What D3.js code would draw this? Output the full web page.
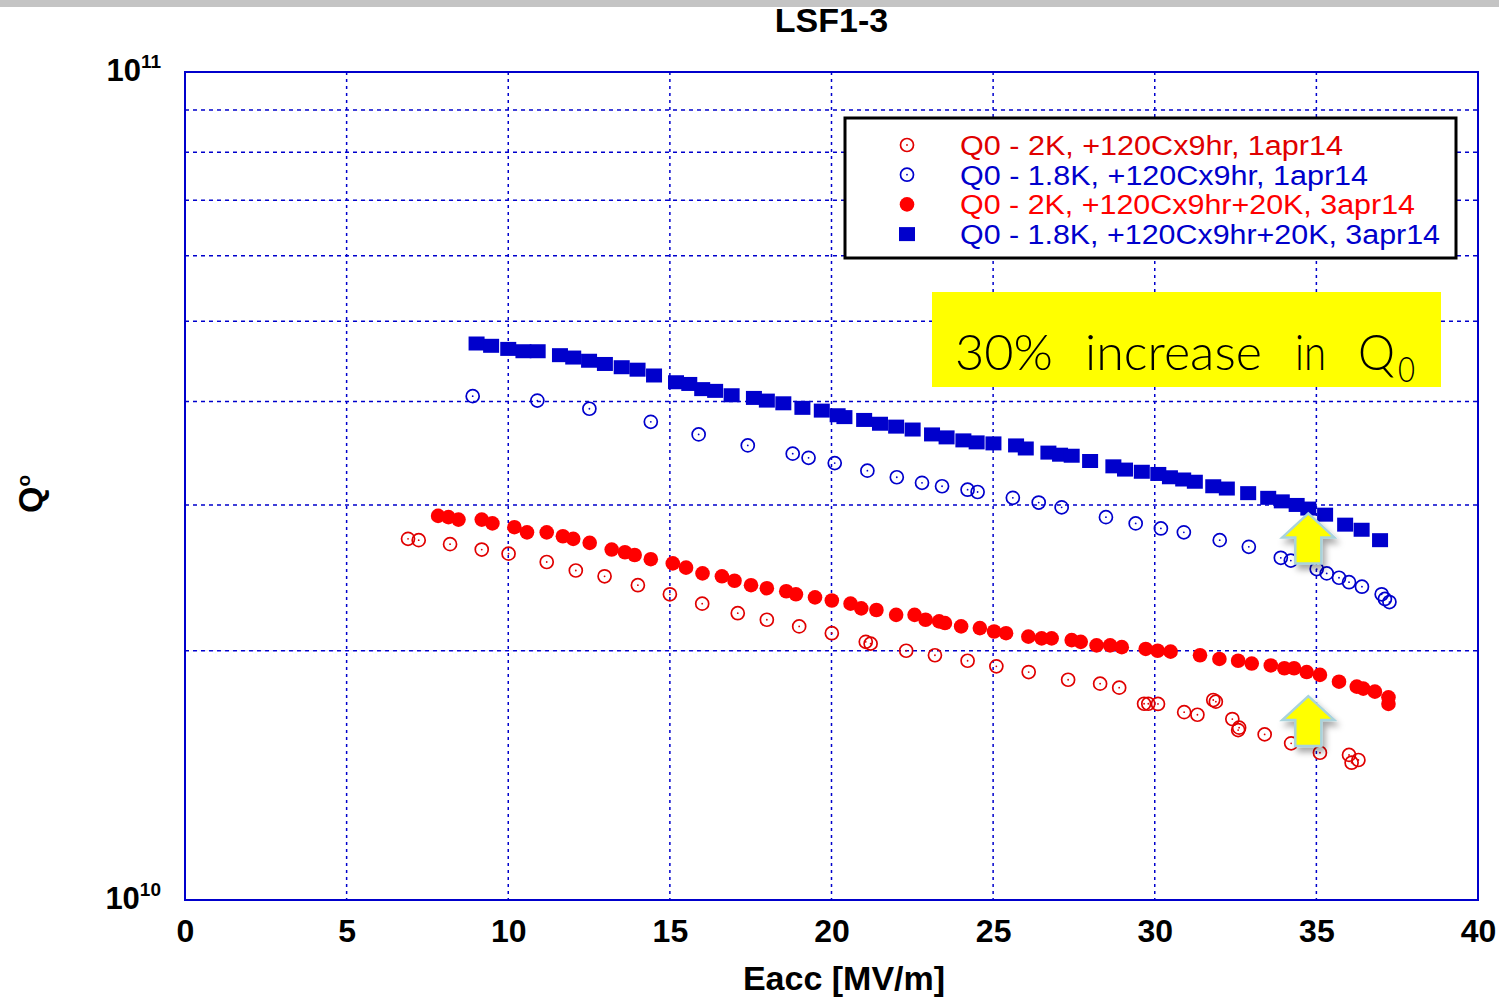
<!DOCTYPE html>
<html>
<head>
<meta charset="utf-8">
<script src="https://cdn.jsdelivr.net/npm/d3@7/dist/d3.min.js"></script>
<style>
  html, body { margin: 0; padding: 0; background: #fff; }
  svg { display: block; font-family: "Liberation Sans", Arial, Helvetica, sans-serif; }
</style>
</head>
<body>
<svg id="chart" width="1499" height="999"></svg>
<script>
// Data: Eacc [MV/m] and Q0 [x1e10]

// Q0 - 2K, +120Cx9hr, 1apr14 (open red)
const red1E = [6.90, 7.23, 8.20, 9.18, 10.01, 11.19, 12.09, 12.98, 14.01, 15.00, 16.00, 17.10, 18.00, 19.00, 20.01, 21.06, 21.21, 22.31, 23.20, 24.21, 25.10, 26.10, 27.32, 28.31, 28.90, 29.67, 29.80, 30.10, 30.91, 31.32, 31.81, 31.89, 32.40, 32.61, 32.58, 33.40, 34.22, 35.11, 36.01, 36.09, 36.30];
const red1Q = [2.73, 2.72, 2.69, 2.65, 2.62, 2.56, 2.50, 2.46, 2.40, 2.34, 2.28, 2.22, 2.18, 2.14, 2.10, 2.05, 2.04, 2.00, 1.975, 1.945, 1.915, 1.885, 1.845, 1.825, 1.805, 1.726, 1.726, 1.725, 1.686, 1.674, 1.744, 1.736, 1.654, 1.615, 1.604, 1.585, 1.546, 1.506, 1.497, 1.465, 1.476];

// Q0 - 1.8K, +120Cx9hr, 1apr14 (open blue)
const blue1E = [8.90, 10.90, 12.51, 14.41, 15.89, 17.41, 18.80, 19.29, 20.10, 21.11, 22.02, 22.80, 23.42, 24.21, 24.52, 25.61, 26.41, 27.12, 28.49, 29.41, 30.19, 30.90, 32.01, 32.91, 33.90, 34.21, 35.01, 35.32, 35.70, 36.01, 36.41, 37.02, 37.12, 37.26];
const blue1Q = [4.06, 4.01, 3.92, 3.78, 3.65, 3.54, 3.46, 3.42, 3.37, 3.30, 3.24, 3.19, 3.16, 3.13, 3.11, 3.06, 3.02, 2.98, 2.90, 2.85, 2.81, 2.78, 2.72, 2.67, 2.59, 2.57, 2.51, 2.48, 2.45, 2.42, 2.39, 2.34, 2.31, 2.29];

// Q0 - 2K, +120Cx9hr+20K, 3apr14 (filled red)
const red2E = [7.83, 8.15, 8.46, 9.18, 9.51, 10.19, 10.58, 11.19, 11.69, 12.01, 12.52, 13.20, 13.61, 13.91, 14.41, 15.09, 15.50, 16.01, 16.61, 17.00, 17.51, 18.00, 18.60, 18.90, 19.49, 20.01, 20.59, 20.92, 21.39, 22.00, 22.57, 22.91, 23.33, 23.51, 24.01, 24.59, 25.03, 25.40, 26.09, 26.50, 26.81, 27.43, 27.71, 28.20, 28.62, 28.98, 29.72, 30.09, 30.49, 31.40, 32.00, 32.58, 33.00, 33.59, 34.01, 34.31, 34.70, 35.11, 35.70, 36.25, 36.45, 36.81, 37.23, 37.23];
const red2Q = [2.91, 2.90, 2.88, 2.88, 2.85, 2.82, 2.78, 2.78, 2.75, 2.73, 2.70, 2.65, 2.63, 2.61, 2.58, 2.55, 2.52, 2.48, 2.46, 2.43, 2.40, 2.38, 2.36, 2.34, 2.32, 2.30, 2.28, 2.25, 2.24, 2.21, 2.21, 2.18, 2.17, 2.16, 2.14, 2.13, 2.11, 2.10, 2.08, 2.07, 2.07, 2.06, 2.05, 2.03, 2.03, 2.02, 2.01, 2.00, 1.995, 1.975, 1.955, 1.945, 1.93, 1.92, 1.905, 1.905, 1.885, 1.87, 1.835, 1.81, 1.80, 1.785, 1.757, 1.725];

// Q0 - 1.8K, +120Cx9hr+20K, 3apr14 (filled blue squares)
const blue2E = [9.02, 9.47, 10.00, 10.47, 10.91, 11.60, 12.01, 12.50, 12.99, 13.51, 14.00, 14.51, 15.19, 15.60, 16.00, 16.40, 16.91, 17.60, 18.00, 18.51, 19.10, 19.70, 20.19, 20.40, 21.01, 21.50, 22.00, 22.51, 23.11, 23.56, 24.08, 24.49, 25.01, 25.71, 26.01, 26.71, 27.07, 27.43, 28.00, 28.72, 29.08, 29.60, 30.11, 30.47, 30.88, 31.24, 31.81, 32.23, 32.89, 33.51, 33.93, 34.39, 34.75, 35.27, 35.89, 36.40, 36.97];
const blue2Q = [4.70, 4.67, 4.63, 4.60, 4.60, 4.55, 4.52, 4.48, 4.44, 4.40, 4.37, 4.30, 4.22, 4.20, 4.14, 4.12, 4.07, 4.04, 4.01, 3.98, 3.93, 3.90, 3.85, 3.83, 3.80, 3.76, 3.73, 3.70, 3.65, 3.62, 3.59, 3.57, 3.56, 3.54, 3.51, 3.47, 3.45, 3.44, 3.39, 3.34, 3.31, 3.29, 3.27, 3.24, 3.22, 3.20, 3.16, 3.14, 3.10, 3.06, 3.03, 3.00, 2.97, 2.92, 2.84, 2.80, 2.72];

const xTicks = [0, 5, 10, 15, 20, 25, 30, 35, 40];
const yGrid = [2e10, 3e10, 4e10, 5e10, 6e10, 7e10, 8e10, 9e10];
const yTickExp = [10, 11];

const legendLabels = [
    'Q0 - 2K, +120Cx9hr, 1apr14',
    'Q0 - 1.8K, +120Cx9hr, 1apr14',
    'Q0 - 2K, +120Cx9hr+20K, 3apr14',
    'Q0 - 1.8K, +120Cx9hr+20K, 3apr14'
];
const legendWidths = [383, 408, 455, 480];

// Arrow tips (Eacc, Q0)
const arrowE = [34.75, 34.75];
const arrowQ = [2.93e10, 1.763e10];

// Layout
const margin = { left: 185, right: 1478, top: 72, bottom: 900 };
const BLUE = '#0000cc';
const RED_OPEN = '#e00000';
const RED_FILL = '#ff0000';

const svg = d3.select('#chart');

const x = d3.scaleLinear().domain([0, 40]).range([margin.left, margin.right]);
const y = d3.scaleLog().domain([1e10, 1e11]).range([margin.bottom, margin.top]);

const toPoints = (E, Q) => E.map((e, i) => ({ e: e, q: Q[i] * 1e10 }));

// Top grey bar
svg.append('rect').attr('x', 0).attr('y', 0).attr('width', 1499).attr('height', 7).attr('fill', '#c4c4c4');

// Title
svg.append('text')
    .attr('x', (margin.left + margin.right) / 2)
    .attr('y', 32)
    .attr('text-anchor', 'middle')
    .style('font-size', '34px')
    .style('font-weight', 'bold')
    .text('LSF1-3');

// Gridlines
const grid = svg.append('g');
grid.selectAll('line.vg')
    .data(xTicks.filter(d => d > 0 && d < 40))
    .enter().append('line')
    .attr('x1', d => x(d)).attr('x2', d => x(d))
    .attr('y1', margin.top).attr('y2', margin.bottom)
    .attr('stroke', BLUE).attr('stroke-width', 1.5)
    .attr('stroke-dasharray', '3,4');

grid.selectAll('line.hg')
    .data(yGrid)
    .enter().append('line')
    .attr('x1', margin.left).attr('x2', margin.right)
    .attr('y1', d => y(d)).attr('y2', d => y(d))
    .attr('stroke', BLUE).attr('stroke-width', 1.5)
    .attr('stroke-dasharray', '4,4');

// Frame
svg.append('rect')
    .attr('x', margin.left).attr('y', margin.top)
    .attr('width', margin.right - margin.left)
    .attr('height', margin.bottom - margin.top)
    .attr('fill', 'none').attr('stroke', BLUE).attr('stroke-width', 2);

// X axis labels
const xAxis = d3.axisBottom(x).tickValues(xTicks).tickSize(0).tickPadding(19);
const xg = svg.append('g').attr('transform', `translate(0,${margin.bottom})`).call(xAxis);
xg.select('.domain').remove();
xg.selectAll('text')
    .attr('fill', '#000')
    .style('font-size', '32px')
    .style('font-weight', 'bold')
    .style('font-family', '"Liberation Sans", Arial, sans-serif');

// Y tick labels 10^10, 10^11
const yl = svg.append('g');
yTickExp.forEach(p => {
    const t = yl.append('text')
        .attr('x', 161)
        .attr('y', y(Math.pow(10, p)) + 9)
        .attr('text-anchor', 'end')
        .style('font-weight', 'bold');
    t.append('tspan').style('font-size', '31px').text('10');
    t.append('tspan').attr('dy', -13).style('font-size', '19px').text(p);
});

// Axis titles
svg.append('text')
    .attr('x', 844)
    .attr('y', 990)
    .attr('text-anchor', 'middle')
    .style('font-size', '34px')
    .style('font-weight', 'bold')
    .text('Eacc [MV/m]');

const yt = svg.append('text')
    .attr('transform', 'translate(42,494) rotate(-90)')
    .attr('text-anchor', 'middle')
    .style('font-weight', 'bold');
yt.append('tspan').style('font-size', '34px').text('Q');
yt.append('tspan').attr('dy', -12).style('font-size', '19px').text('o');

// Data marks
const marks = svg.append('g');

function openCircles(data, color) {
    const g = marks.append('g');
    g.selectAll('circle.o')
        .data(data).enter().append('circle')
        .attr('cx', d => x(d.e)).attr('cy', d => y(d.q))
        .attr('r', 6.5)
        .attr('fill', 'none').attr('stroke', color).attr('stroke-width', 1.7);
    g.selectAll('circle.c')
        .data(data).enter().append('circle')
        .attr('cx', d => x(d.e)).attr('cy', d => y(d.q))
        .attr('r', 0.9).attr('fill', color);
}

openCircles(toPoints(red1E, red1Q), RED_OPEN);
openCircles(toPoints(blue1E, blue1Q), BLUE);

marks.append('g').selectAll('circle')
    .data(toPoints(red2E, red2Q)).enter().append('circle')
    .attr('cx', d => x(d.e)).attr('cy', d => y(d.q))
    .attr('r', 7.3).attr('fill', RED_FILL);

marks.append('g').selectAll('rect')
    .data(toPoints(blue2E, blue2Q)).enter().append('rect')
    .attr('x', d => x(d.e) - 8).attr('y', d => y(d.q) - 7)
    .attr('width', 16).attr('height', 14)
    .attr('fill', BLUE);

// Legend
const legend = svg.append('g').attr('transform', 'translate(845,118)');
legend.append('rect')
    .attr('width', 611).attr('height', 140)
    .attr('fill', '#fff').attr('stroke', '#000').attr('stroke-width', 3);

const legendColors = [RED_OPEN, BLUE, RED_FILL, BLUE];
legendLabels.forEach((label, i) => {
    const cy = 27 + i * 29.7;
    if (i < 2) {
        legend.append('circle').attr('cx', 62).attr('cy', cy).attr('r', 6.5)
            .attr('fill', 'none').attr('stroke', legendColors[i]).attr('stroke-width', 1.7);
        legend.append('circle').attr('cx', 62).attr('cy', cy).attr('r', 0.9).attr('fill', legendColors[i]);
    } else if (i === 2) {
        legend.append('circle').attr('cx', 62).attr('cy', cy).attr('r', 7.3).attr('fill', RED_FILL);
    } else {
        legend.append('rect').attr('x', 54).attr('y', cy - 7).attr('width', 16).attr('height', 14).attr('fill', BLUE);
    }
    legend.append('text')
        .attr('x', 115).attr('y', cy + 10)
        .attr('fill', legendColors[i])
        .attr('textLength', legendWidths[i])
        .attr('lengthAdjust', 'spacingAndGlyphs')
        .style('font-size', '27px')
        .text(label);
});

// Yellow note
const note = svg.append('g').attr('transform', 'translate(932,292)');
note.append('rect').attr('width', 509).attr('height', 95).attr('fill', '#ffff00');
const noteWords = [
    { text: '30%', x: 23, w: 98, size: 50, dy: 0 },
    { text: 'increase', x: 153, w: 177, size: 50, dy: 0 },
    { text: 'in', x: 363, w: 31, size: 50, dy: 0 },
    { text: 'Q', x: 426, w: 37, size: 50, dy: 0 },
    { text: '0', x: 466, w: 17, size: 35, dy: 12 }
];
noteWords.forEach(w => {
    note.append('text')
        .attr('x', w.x).attr('y', 78 + w.dy)
        .attr('textLength', w.w)
        .attr('lengthAdjust', 'spacingAndGlyphs')
        .attr('fill', '#000')
        .style('font-family', 'Lato, "Open Sans", sans-serif')
        .style('font-weight', 300)
        .style('font-size', w.size + 'px')
        .text(w.text);
});

// Arrows
const defs = svg.append('defs');
const shadow = defs.append('filter').attr('id', 'shadow')
    .attr('x', '-50%').attr('y', '-50%').attr('width', '200%').attr('height', '200%');
shadow.append('feDropShadow')
    .attr('dx', 3).attr('dy', 5).attr('stdDeviation', 3)
    .attr('flood-color', '#000').attr('flood-opacity', 0.35);

const arrowPath = d3.line()([
    [0, 0], [26, 24], [13, 24], [13, 50], [-13, 50], [-13, 24], [-26, 24]
]) + 'Z';

svg.append('g').selectAll('path')
    .data(arrowE.map((e, i) => ({ e: e, q: arrowQ[i] })))
    .enter().append('path')
    .attr('d', arrowPath)
    .attr('transform', d => `translate(${x(d.e)},${y(d.q)})`)
    .attr('fill', '#ffff00')
    .attr('stroke', '#a9d3dc')
    .attr('stroke-width', 2.5)
    .attr('stroke-linejoin', 'miter')
    .attr('filter', 'url(#shadow)');
</script>
</body>
</html>
